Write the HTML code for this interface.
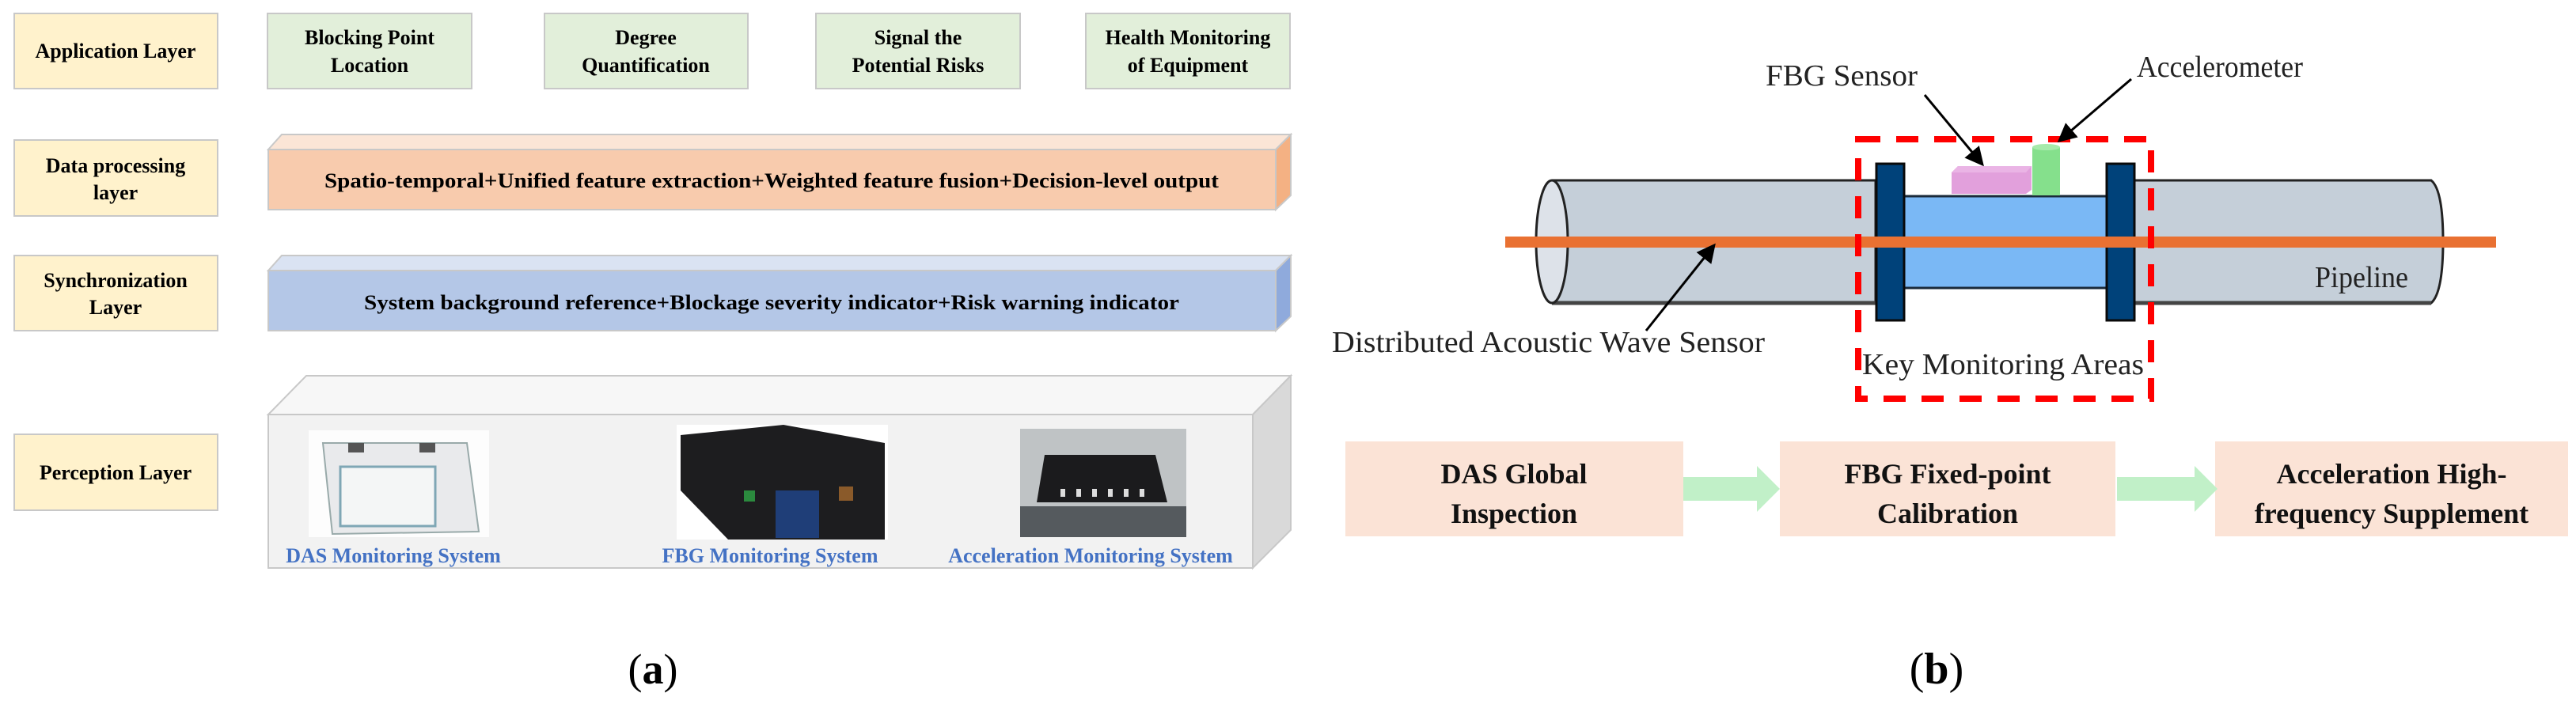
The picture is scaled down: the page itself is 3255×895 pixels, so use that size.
<!DOCTYPE html>
<html><head><meta charset="utf-8"><style>
html,body{margin:0;padding:0;background:#fff;}
svg{display:block;}
</style></head><body>
<svg width="3255" height="895" viewBox="0 0 3255 895" xmlns="http://www.w3.org/2000/svg" font-family="'Liberation Serif', serif">
<defs>
<marker id="ah" markerWidth="8" markerHeight="8" refX="7" refY="4" orient="auto" markerUnits="strokeWidth"><path d="M0,0 L8,4 L0,8 z" fill="#000"/></marker>
</defs>
<!-- LEFT PANEL -->
<g stroke="#c8c8c8" stroke-width="2">
<rect x="18" y="17" width="257" height="95" fill="#fff2cc"/>
<rect x="18" y="177" width="257" height="96" fill="#fff2cc"/>
<rect x="18" y="323" width="257" height="95" fill="#fff2cc"/>
<rect x="18" y="549" width="257" height="96" fill="#fff2cc"/>
<rect x="338" y="17" width="258" height="95" fill="#e2efda"/>
<rect x="688" y="17" width="257" height="95" fill="#e2efda"/>
<rect x="1031" y="17" width="258" height="95" fill="#e2efda"/>
<rect x="1372" y="17" width="258" height="95" fill="#e2efda"/>
<!-- data processing bar -->
<polygon points="339,189 356,170 1631,170 1612,189" fill="#fbe5d6"/>
<polygon points="1612,189 1631,170 1631,247 1612,265" fill="#f4b183"/>
<rect x="339" y="189" width="1273" height="76" fill="#f8cbad"/>
<!-- sync bar -->
<polygon points="339,342 356,323 1631,323 1612,342" fill="#dae3f3"/>
<polygon points="1612,342 1631,323 1631,400 1612,418" fill="#8faadc"/>
<rect x="339" y="342" width="1273" height="76" fill="#b4c7e7"/>
<!-- perception -->
<polygon points="339,524 387,475 1631,475 1583,524" fill="#f7f7f7"/>
<polygon points="1583,524 1631,475 1631,670 1583,718" fill="#d9d9d9"/>
<rect x="339" y="524" width="1244" height="194" fill="#f2f2f2"/>
</g>
<g font-weight="bold" font-size="26" text-anchor="middle" fill="#000">
<text x="146" y="73">Application Layer</text>
<text x="146" y="218">Data processing</text>
<text x="146" y="252">layer</text>
<text x="146" y="363">Synchronization</text>
<text x="146" y="397">Layer</text>
<text x="146" y="606">Perception Layer</text>
<text x="467" y="56">Blocking Point</text>
<text x="467" y="91">Location</text>
<text x="816" y="56">Degree</text>
<text x="816" y="91">Quantification</text>
<text x="1160" y="56">Signal the</text>
<text x="1160" y="91">Potential Risks</text>
<text x="1501" y="56">Health Monitoring</text>
<text x="1501" y="91">of Equipment</text>
<text x="975" y="237" textLength="1130" lengthAdjust="spacingAndGlyphs">Spatio-temporal+Unified feature extraction+Weighted feature fusion+Decision-level output</text>
<text x="975" y="391" textLength="1030" lengthAdjust="spacingAndGlyphs">System background reference+Blockage severity indicator+Risk warning indicator</text>
</g>
<!-- device images -->
<rect x="390" y="544" width="228" height="135" fill="#fdfdfd"/>
<polygon points="408,560 590,560 605,672 420,675" fill="#e9eaec" stroke="#9aa" stroke-width="2"/>
<rect x="430" y="590" width="120" height="75" fill="#f4f6f6" stroke="#7fa7b5" stroke-width="3"/>
<rect x="440" y="560" width="20" height="12" fill="#555"/><rect x="530" y="560" width="20" height="12" fill="#555"/>
<rect x="855" y="537" width="267" height="145" fill="#fff"/>
<polygon points="860,550 990,537 1118,560 1118,682 920,682 860,620" fill="#1d1d1f"/>
<rect x="980" y="620" width="55" height="60" fill="#1f3e78"/>
<rect x="940" y="620" width="14" height="14" fill="#2b8a3e"/>
<rect x="1060" y="615" width="18" height="18" fill="#8a5a2a"/>
<rect x="1289" y="542" width="210" height="137" fill="#bfc3c5"/>
<rect x="1289" y="640" width="210" height="39" fill="#555a5e"/>
<polygon points="1320,575 1460,575 1475,635 1310,635" fill="#1b1b1d"/>
<g fill="#ddd"><rect x="1340" y="618" width="6" height="10"/><rect x="1360" y="618" width="6" height="10"/><rect x="1380" y="618" width="6" height="10"/><rect x="1400" y="618" width="6" height="10"/><rect x="1420" y="618" width="6" height="10"/><rect x="1440" y="618" width="6" height="10"/></g>
<g font-weight="bold" font-size="26" fill="#4472c4" text-anchor="middle">
<text x="497" y="711">DAS Monitoring System</text>
<text x="973" y="711">FBG Monitoring System</text>
<text x="1378" y="711">Acceleration Monitoring System</text>
</g>
<text x="825" y="864" font-size="54" text-anchor="middle"><tspan>(</tspan><tspan font-weight="bold">a</tspan><tspan>)</tspan></text>

<!-- RIGHT PANEL -->
<!-- left pipe -->
<path d="M1961,228 L2370,228 L2370,383 L1961,383" fill="#c5cfd9" stroke="#222" stroke-width="3"/>
<line x1="1961" y1="383" x2="2370" y2="383" stroke="#444" stroke-width="5"/>
<ellipse cx="1961" cy="305.5" rx="20" ry="77.5" fill="#dde2e9" stroke="#222" stroke-width="3"/>
<!-- right pipe -->
<path d="M2697,228 L3072,228 Q3087,240 3087,305 Q3087,370 3072,383 L2697,383" fill="#c5cfd9" stroke="#222" stroke-width="3"/>
<line x1="2697" y1="383" x2="3072" y2="383" stroke="#444" stroke-width="5"/>
<!-- middle blue -->
<rect x="2406" y="248" width="256" height="116" fill="#7ab8f5" stroke="#1a2a3a" stroke-width="3"/>
<!-- flanges -->
<rect x="2371" y="207" width="35" height="198" fill="#00427a" stroke="#0a0a0a" stroke-width="3"/>
<rect x="2662" y="207" width="35" height="198" fill="#00427a" stroke="#0a0a0a" stroke-width="3"/>
<!-- FBG sensor -->
<polygon points="2466,218 2474,210 2567,210 2567,240 2560,245 2466,245" fill="#e2a0dc"/>
<polygon points="2466,218 2474,210 2567,210 2560,218" fill="#eab4e5"/>
<!-- accelerometer -->
<rect x="2568" y="186" width="35" height="61" fill="#85e08c"/>
<ellipse cx="2585.5" cy="186" rx="17.5" ry="4" fill="#a6eaab"/>
<!-- orange fiber -->
<rect x="1902" y="299" width="1252" height="14" fill="#e97132"/>
<!-- red dashed box -->
<rect x="2348" y="176" width="370" height="328" fill="none" stroke="#ff0000" stroke-width="8" stroke-dasharray="28,20"/>
<!-- arrows -->
<g stroke="#000" stroke-width="3" fill="none">
<line x1="2080" y1="418" x2="2166" y2="310" marker-end="url(#ah)"/>
<line x1="2432" y1="120" x2="2505" y2="208" marker-end="url(#ah)"/>
<line x1="2693" y1="100" x2="2602" y2="178" marker-end="url(#ah)"/>
</g>
<g font-size="38" fill="#222">
<text x="1683" y="445" textLength="547" lengthAdjust="spacingAndGlyphs">Distributed Acoustic  Wave Sensor</text>
<text x="2231" y="108" textLength="192" lengthAdjust="spacingAndGlyphs">FBG Sensor</text>
<text x="2700" y="97" textLength="210" lengthAdjust="spacingAndGlyphs">Accelerometer</text>
<text x="2353" y="473" textLength="356" lengthAdjust="spacingAndGlyphs">Key Monitoring Areas</text>
<text x="2925" y="363" textLength="118" lengthAdjust="spacingAndGlyphs">Pipeline</text>
</g>
<!-- flow boxes -->
<rect x="1700" y="558" width="427" height="120" fill="#fbe3d6"/>
<rect x="2249" y="558" width="424" height="120" fill="#fbe3d6"/>
<rect x="2799" y="558" width="446" height="120" fill="#fbe3d6"/>
<polygon points="2127,603 2220,603 2220,589 2249,618 2220,647 2220,633 2127,633" fill="#c1f0c8"/>
<polygon points="2675,603 2773,603 2773,589 2802,618 2773,647 2773,633 2675,633" fill="#c1f0c8"/>
<g font-weight="bold" font-size="36" fill="#111" text-anchor="middle">
<text x="1913" y="611">DAS Global</text>
<text x="1913" y="661">Inspection</text>
<text x="2461" y="611">FBG Fixed-point</text>
<text x="2461" y="661">Calibration</text>
<text x="3022" y="611">Acceleration  High-</text>
<text x="3022" y="661">frequency Supplement</text>
</g>
<text x="2447" y="864" font-size="56" text-anchor="middle"><tspan>(</tspan><tspan font-weight="bold">b</tspan><tspan>)</tspan></text>
</svg>
</body></html>
